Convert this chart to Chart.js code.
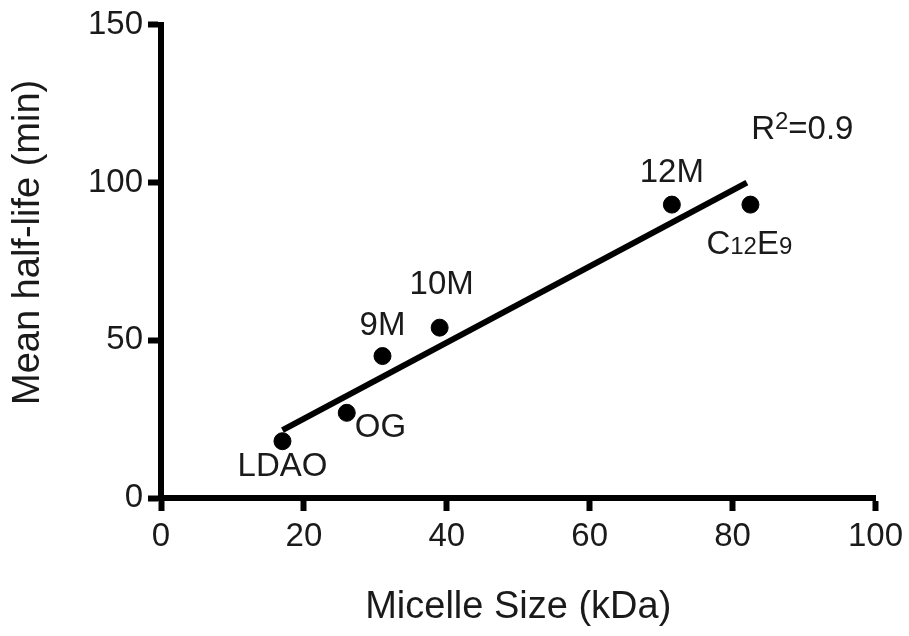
<!DOCTYPE html>
<html>
<head>
<meta charset="utf-8">
<script src="https://cdn.jsdelivr.net/npm/chart.js@4/dist/chart.umd.min.js"></script>
<style>
  html, body { margin: 0; padding: 0; background: #fff; }
  canvas { display: block; }
</style>
</head>
<body>
<canvas id="chart" width="909" height="636"></canvas>
<script>
// detergent micelle size vs mean half-life
const detergents = ['LDAO', 'OG', '9M', '10M', '12M', 'C12E9'];
const micelleSizes = [17, 26, 31, 39, 71.5, 82.5];
const halfLives = [18, 27, 45, 54, 93, 93];

// linear fit line, ends
const fitX = [17, 82];
const fitY = [21.5, 100];
const rSquared = '0.9';

const FONT = "'Liberation Sans', Arial, Helvetica, sans-serif";
const INK = '#1a1a1a';

// where each point's name sits, relative to the dot (px, baseline)
const labelPlacement = {
  'LDAO':  { dx: 0,   dy: 35,  align: 'center' },
  'OG':    { dx: 8,   dy: 24,  align: 'left' },
  '9M':    { dx: 0,   dy: -21, align: 'center' },
  '10M':   { dx: 2,   dy: -34, align: 'center' },
  '12M':   { dx: 0,   dy: -23, align: 'center' },
  'C12E9': { dx: -44, dy: 49,  align: 'left' }
};

// split label into normal / subscript pieces
function labelParts(name) {
  if (name === 'C12E9') return [['C', ''], ['12', 'sub'], ['E', ''], ['9', 'sub']];
  return [[name, '']];
}

function drawParts(ctx, parts, x, y, align) {
  const big = '33px ' + FONT;
  const small = '24px ' + FONT;
  let total = 0;
  parts.forEach(p => {
    ctx.font = p[1] ? small : big;
    total += ctx.measureText(p[0]).width;
  });
  let cx = align === 'center' ? x - total / 2 : x;
  ctx.textAlign = 'left';
  ctx.textBaseline = 'alphabetic';
  parts.forEach(p => {
    ctx.font = p[1] ? small : big;
    let yy = y;
    if (p[1] === 'sup') yy = y - 10;
    ctx.fillText(p[0], cx, yy);
    cx += ctx.measureText(p[0]).width;
  });
}

const annotations = {
  id: 'annotations',
  afterDatasetsDraw(chart) {
    const ctx = chart.ctx;
    const xs = chart.scales.x, ys = chart.scales.y;
    ctx.save();
    ctx.fillStyle = INK;
    detergents.forEach((name, i) => {
      const pl = labelPlacement[name];
      const px = xs.getPixelForValue(micelleSizes[i]);
      const py = ys.getPixelForValue(halfLives[i]);
      drawParts(ctx, labelParts(name), px + pl.dx, py + pl.dy, pl.align);
    });
    // R^2 note, placed in data space near the top of the fit
    drawParts(ctx, [['R', ''], ['2', 'sup'], ['=' + rSquared, '']],
      xs.getPixelForValue(82.6), ys.getPixelForValue(113.7), 'left');

    // y axis title
    const area = chart.chartArea;
    ctx.font = '38px ' + FONT;
    ctx.textAlign = 'center';
    ctx.textBaseline = 'middle';
    ctx.translate(29, (area.top + area.bottom) / 2 - 19);
    ctx.rotate(-Math.PI / 2);
    ctx.fillText('Mean half-life (min)', 0, 0);
    ctx.restore();
  }
};

const axisLook = {
  border: { display: true, color: '#000', width: 6 },
  grid: {
    display: true,
    drawOnChartArea: false,
    drawTicks: true,
    tickLength: 13,
    tickWidth: 6,
    tickColor: '#000'
  }
};

new Chart(document.getElementById('chart'), {
  type: 'scatter',
  data: {
    datasets: [
      {
        label: 'Detergents',
        data: micelleSizes.map((x, i) => ({ x: x, y: halfLives[i] })),
        backgroundColor: '#000',
        borderColor: '#000',
        pointRadius: 8.5,
        pointHoverRadius: 8.5
      },
      {
        label: 'Fit',
        data: fitX.map((x, i) => ({ x: x, y: fitY[i] })),
        showLine: true,
        borderColor: '#000',
        borderWidth: 6,
        pointRadius: 0,
        fill: false
      }
    ]
  },
  options: {
    responsive: false,
    animation: false,
    layout: { padding: { left: 0, right: 32, top: 22, bottom: 0 } },
    plugins: {
      legend: { display: false },
      tooltip: { enabled: false }
    },
    scales: {
      x: {
        type: 'linear',
        min: 0,
        max: 100,
        ...axisLook,
        ticks: { stepSize: 20, padding: 6, color: INK, font: { family: FONT, size: 33 } },
        title: {
          display: true,
          text: 'Micelle Size (kDa)',
          color: INK,
          font: { family: FONT, size: 38 },
          padding: { top: 0, bottom: 6 }
        },
        afterFit(scale) { scale.height = 138; }
      },
      y: {
        type: 'linear',
        min: 0,
        max: 150,
        ...axisLook,
        ticks: { stepSize: 50, padding: 5, color: INK, font: { family: FONT, size: 33 } },
        afterFit(scale) { scale.width = 161; }
      }
    }
  },
  plugins: [annotations]
});
</script>
</body>
</html>
